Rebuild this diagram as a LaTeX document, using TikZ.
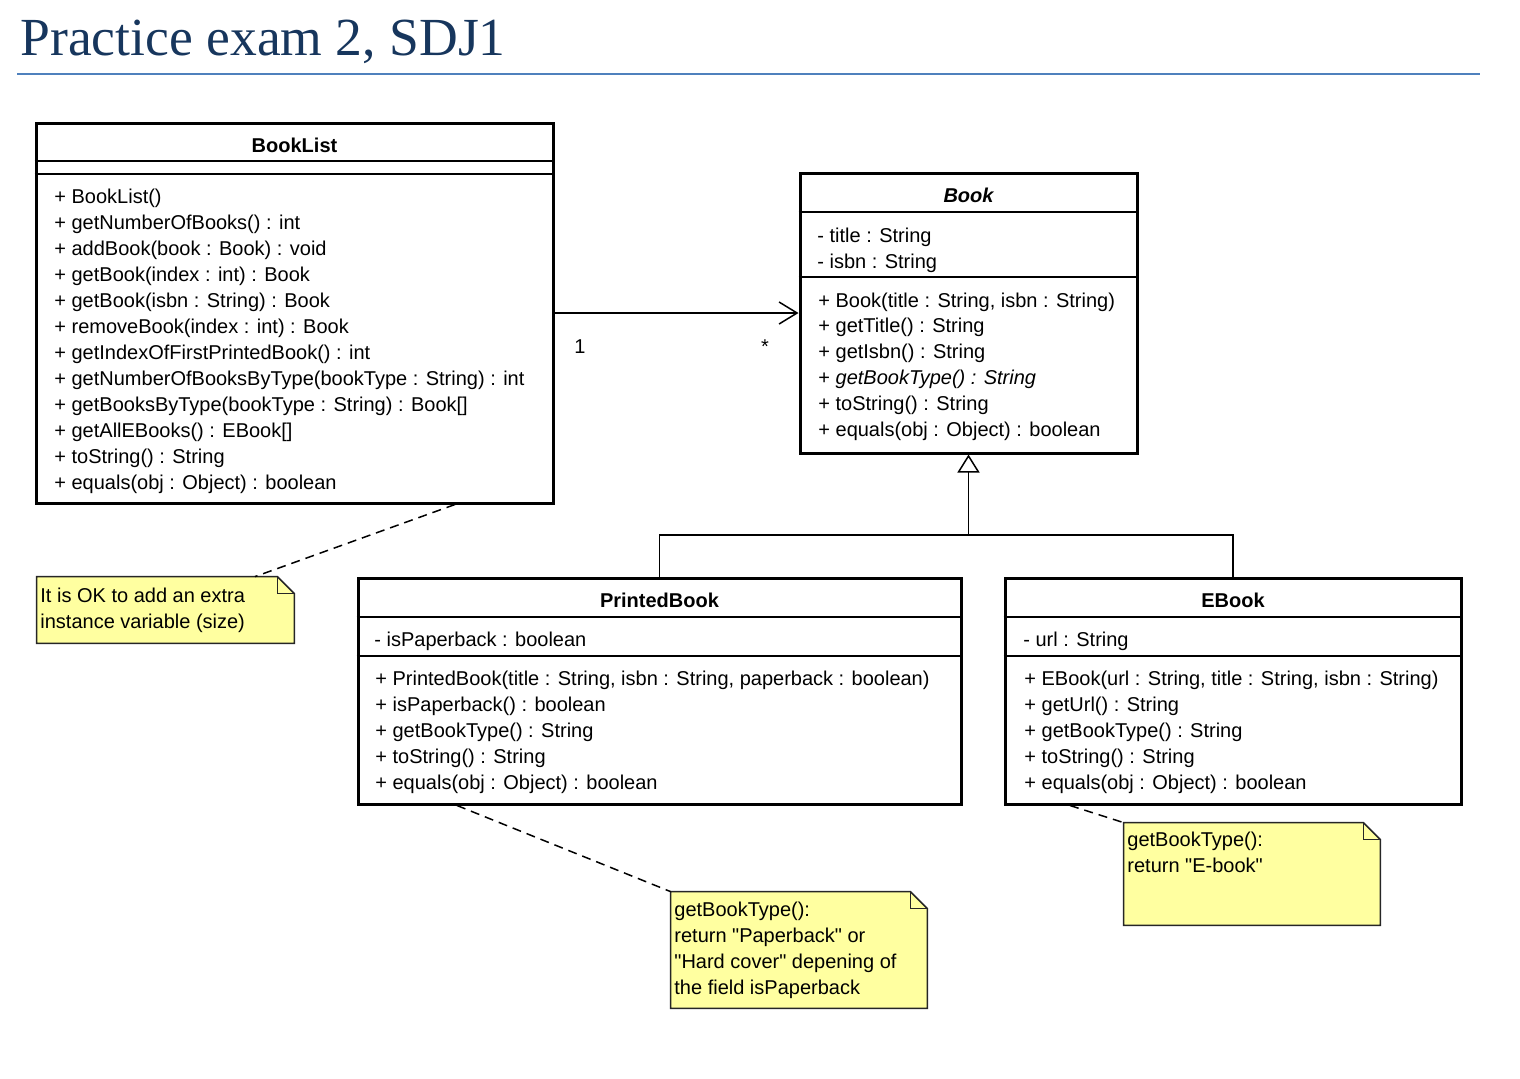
\documentclass[tikz,border=0pt]{standalone}
\usepackage{fontspec}
\setmainfont{Liberation Sans}[Ligatures=TeXOff]
\newfontfamily\titlefont{Liberation Serif}
\usetikzlibrary{arrows.meta,fit,calc}
\definecolor{titleblue}{RGB}{23,54,93}
\definecolor{rulecol}{RGB}{79,129,189}
\definecolor{notefill}{RGB}{255,255,160}
\tikzset{
  classbox/.style={draw=black, line width=1.5pt, inner sep=0pt, fill=white},
  sepline/.style={line width=0.6pt},
  txt/.style={anchor=base west, inner sep=0pt, font=\fontsize{10}{12}\selectfont},
  cname/.style={anchor=base, inner sep=0pt, font=\fontsize{10}{12}\selectfont\bfseries},
  notebox/.style={inner sep=0pt},
  noteshape/.style={draw=black!85, line width=0.75pt, fill=notefill},
  notelink/.style={line width=0.75pt, dash pattern=on 4.5pt off 3pt},
  assoc/.style={line width=0.75pt, -{Straight Barb[length=9pt,width=11pt]}},
  inherit/.style={line width=0.75pt, -{Triangle[open,length=9pt,width=11pt]}},
  mult/.style={anchor=base, inner sep=0pt, font=\fontsize{10}{12}\selectfont},
}
\newcommand\drawnote[1]{%
  \draw[noteshape] (#1.north west) -- ([xshift=-8.5pt]#1.north east) -- ([yshift=-8.5pt]#1.north east) -- (#1.south east) -- (#1.south west) -- cycle;
  \draw[line width=0.75pt, draw=black!85] ([xshift=-8.5pt]#1.north east) |- ([yshift=-8.5pt]#1.north east);
}
\begin{document}
\begin{tikzpicture}[x=0.5pt, y=-0.5pt]
\useasboundingbox (0,0) rectangle (1520,1078);
\fill[white] (0,0) rectangle (1520,1078);

% title
\node[anchor=base west, inner sep=0pt, font=\titlefont\fontsize{26.8}{30}\selectfont, text=titleblue] (title) at (20,55) {Practice exam 2, SDJ1};
\draw[rulecol, line width=1pt] (17,74) -- (1480,74);

% class boxes
\node[classbox, fit={(36,123) (553,503)}] (booklist) {};
\node[classbox, fit={(800,173) (1137,453)}] (book) {};
\node[classbox, fit={(358,578) (961,804)}] (printed) {};
\node[classbox, fit={(1005,578) (1461,804)}] (ebook) {};

% compartments
\draw[sepline] (booklist.west |- 0,161) -- (booklist.east |- 0,161);
\draw[sepline] (booklist.west |- 0,174) -- (booklist.east |- 0,174);
\draw[sepline] (book.west |- 0,212) -- (book.east |- 0,212);
\draw[sepline] (book.west |- 0,277) -- (book.east |- 0,277);
\draw[sepline] (printed.west |- 0,617) -- (printed.east |- 0,617);
\draw[sepline] (printed.west |- 0,656) -- (printed.east |- 0,656);
\draw[sepline] (ebook.west |- 0,617) -- (ebook.east |- 0,617);
\draw[sepline] (ebook.west |- 0,656) -- (ebook.east |- 0,656);

% BookList
\node[cname] (booklist-name) at (294.5,152) {BookList};
\foreach [count=\i] \t in {
  {+ BookList()},
  {+ getNumberOfBooks() : int},
  {+ addBook(book : Book) : void},
  {+ getBook(index : int) : Book},
  {+ getBook(isbn : String) : Book},
  {+ removeBook(index : int) : Book},
  {+ getIndexOfFirstPrintedBook() : int},
  {+ getNumberOfBooksByType(bookType : String) : int},
  {+ getBooksByType(bookType : String) : Book[]},
  {+ getAllEBooks() : EBook[]},
  {+ toString() : String},
  {+ equals(obj : Object) : boolean}}
  \node[txt] (bl-m\i) at (54,{203+26*(\i-1)}) {\t};

% Book
\node[cname, font=\fontsize{10}{12}\selectfont\bfseries\itshape] (book-name) at (968.5,202) {Book};
\node[txt] (bk-a1) at (817,242) {- title : String};
\node[txt] (bk-a2) at (817,268) {- isbn : String};
\foreach [count=\i] \t in {
  {+ Book(title : String, isbn : String)},
  {+ getTitle() : String},
  {+ getIsbn() : String},
  {+ \textit{getBookType() : String}},
  {+ toString() : String},
  {+ equals(obj : Object) : boolean}}
  \node[txt] (bk-m\i) at (818,{307+25.8*(\i-1)}) {\t};

% PrintedBook
\node[cname] (printed-name) at (659.5,607) {PrintedBook};
\node[txt] (pb-a1) at (374,646) {- isPaperback : boolean};
\foreach [count=\i] \t in {
  {+ PrintedBook(title : String, isbn : String, paperback : boolean)},
  {+ isPaperback() : boolean},
  {+ getBookType() : String},
  {+ toString() : String},
  {+ equals(obj : Object) : boolean}}
  \node[txt] (pb-m\i) at (375,{685+26*(\i-1)}) {\t};

% EBook
\node[cname] (ebook-name) at (1233,607) {EBook};
\node[txt] (eb-a1) at (1023,646) {- url : String};
\foreach [count=\i] \t in {
  {+ EBook(url : String, title : String, isbn : String)},
  {+ getUrl() : String},
  {+ getBookType() : String},
  {+ toString() : String},
  {+ equals(obj : Object) : boolean}}
  \node[txt] (eb-m\i) at (1024,{685+26*(\i-1)}) {\t};

% association
\draw[assoc] (booklist.east) -- (book.west);
\node[mult] (mult-one) at (580,353) {1};
\node[mult] (mult-many) at (765,353) {*};

% generalization
\coordinate (gen) at (968.5,535);
\draw[line width=0.75pt] (printed.north) |- (gen);
\draw[line width=0.75pt] (ebook.north) |- (gen);
\draw[inherit] (gen) -- (book.south);

% notes
\node[notebox, fit={(37,577) (294,643)}] (note1) {};
\node[notebox, fit={(671,892) (927,1008)}] (note2) {};
\node[notebox, fit={(1124,823) (1380,925)}] (note3) {};
\drawnote{note1}
\drawnote{note2}
\drawnote{note3}
\node[txt] (n1-l1) at (40,602) {It is OK to add an extra};
\node[txt] (n1-l2) at (40,628) {instance variable (size)};
\node[txt] (n2-l1) at (674,916) {getBookType():};
\node[txt] (n2-l2) at (674,942) {return "Paperback" or};
\node[txt] (n2-l3) at (674,968) {"Hard cover" depening of};
\node[txt] (n2-l4) at (674,994) {the field isPaperback};
\node[txt] (n3-l1) at (1127,846) {getBookType():};
\node[txt] (n3-l2) at (1127,872) {return "E-book"};

% note links
\draw[notelink] (booklist.south -| 455,0) -- (note1.north -| 255,0);
\draw[notelink] (printed.south -| 457,0) -- (note2.north west);
\draw[notelink] (ebook.south -| 1070,0) -- (note3.north west);
\end{tikzpicture}
\end{document}
